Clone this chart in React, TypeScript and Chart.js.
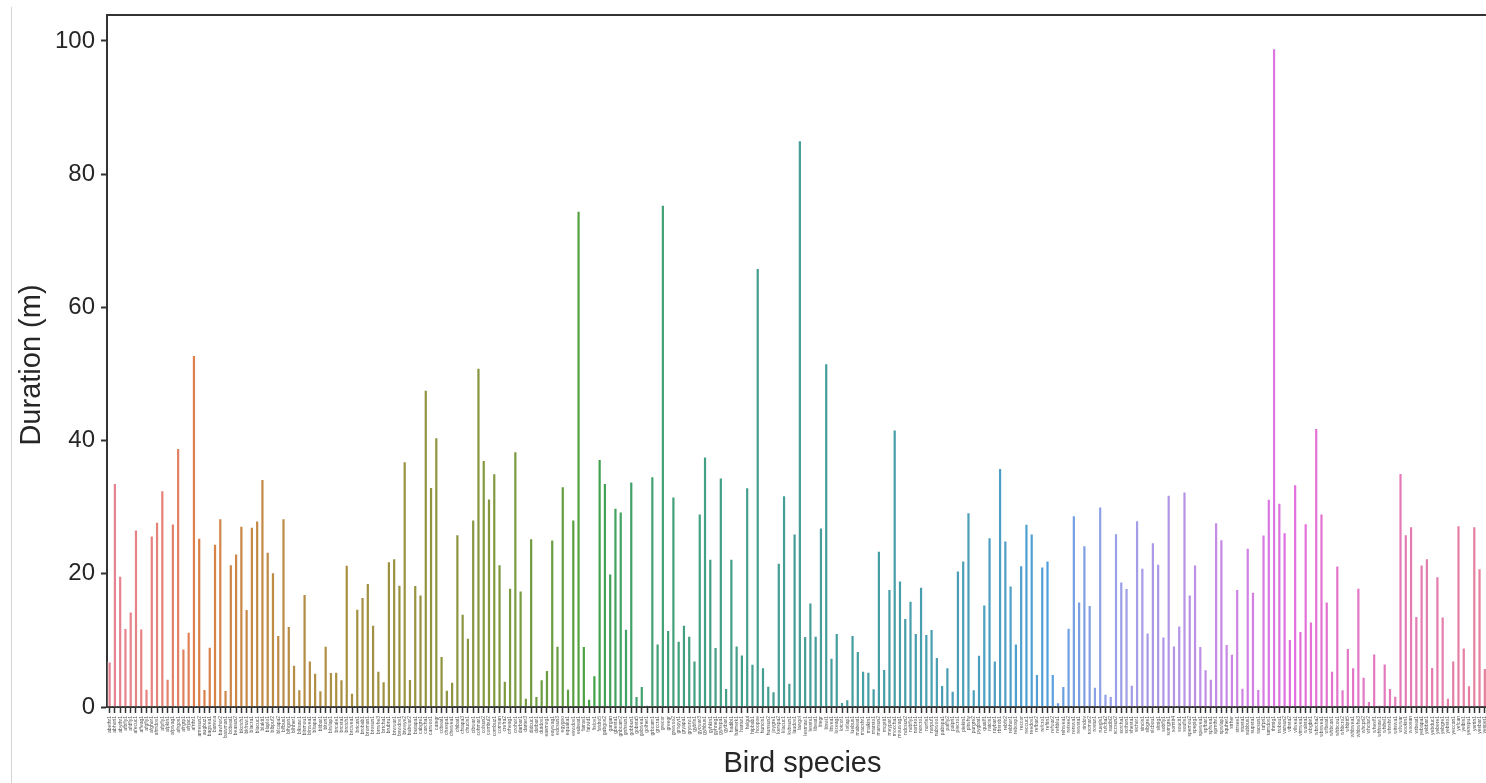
import React, { useEffect, useRef } from "react";
import { Chart, registerables } from "chart.js";

Chart.register(...registerables);

// ---------------- data ----------------
const species: string[] = [
  "abethr1", "abhori1", "abythr1", "afbfly1", "afdfly1", "afecuc1", "affeag1", "afgfly1", "afghor1", "afmdov1",
  "afpfly1", "afpkin1", "afpwag1", "afrgos1", "afrgrp1", "afrjac1", "afrthr1", "amesun2", "augbuz1", "bagwea1",
  "barswa", "bawhor2", "bawman1", "bcbeat1", "beasun2", "bkctch1", "bkfruw1", "blacra1", "blacuc1", "blakit1",
  "blaplo1", "blbpuf2", "blcapa2", "blfbus1", "blhgon1", "blhher1", "blksaw1", "blnmou1", "blnwea1", "bltapa1",
  "bltbar1", "bltori1", "blwlap1", "brcale1", "brcsta1", "brctch1", "brcwea1", "brican1", "brobab1", "broman1",
  "brosun1", "brrwhe3", "brtcha1", "brubru1", "brwwar1", "bswdov1", "btweye2", "bubwar2", "butapa1", "cabgre1",
  "carcha1", "carwoo1", "categr", "ccbeat1", "chespa1", "chewea1", "chibat1", "chtapa3", "chucis1", "cibwar1",
  "cohmar1", "colsun2", "combul2", "combuz1", "comsan", "crefra2", "crheag1", "crohor1", "darbar1", "darter3",
  "didcuc1", "dotbar1", "dutdov1", "easmog1", "eaywag1", "edcsun3", "egygoo", "equaka1", "eswdov1", "eubeat1",
  "fatrav1", "fatwid1", "fislov1", "fotdro5", "gabgos2", "gargan", "gbesta1", "gnbcam2", "gnhsun1", "gobbun1",
  "gobsta5", "gobwea1", "golher1", "grbcam1", "grccra1", "grecor", "greegr", "grewoo2", "grwpyt1", "gryapa1",
  "grywrw1", "gybfis1", "gycwar3", "gyhbus1", "gyhkin1", "gyhneg1", "gyhspa1", "gytbar1", "hadibi1", "hamerk1",
  "hartur1", "helgui", "hipbab1", "hoopoe", "huncis1", "hunsun2", "joygre1", "kerspa2", "klacuc1", "kvbsun1",
  "laudov1", "lawgol", "lesmaw1", "lessts1", "libeat1", "litegr", "litswi1", "litwea1", "loceag1", "lotcor1",
  "lotlap1", "luebus1", "mabeat1", "macshr1", "malkin1", "marsto1", "marsun2", "mcptit1", "meypar1", "moccha1",
  "mouwag1", "ndcsun2", "nobfly1", "norbro1", "norcro1", "norfis1", "norpuf1", "nubwoo1", "pabspa1", "palfly2",
  "palpri1", "piecro1", "piekin1", "pitwhy", "purgre2", "pygbat1", "quailf1", "ratcis1", "raybar1", "rbsrob1",
  "rebfir2", "rebhor1", "reboxp1", "reccor", "reccuc1", "reedov1", "refbar2", "refcro1", "reftin1", "refwar2",
  "rehblu1", "rehwea1", "reisee2", "rerswa1", "rewsta1", "rindov", "rocmar2", "rostur1", "ruegls1", "rufcha2",
  "sacibi2", "sccsun2", "scrcha1", "scthon1", "shesta1", "sichor1", "sincis1", "slbgre1", "slcbou1", "sltnig1",
  "sobfly1", "somgre1", "somtit4", "soucit1", "soufis1", "spemou2", "spepig1", "spewea1", "spfbar1", "spfwea1",
  "spmthr1", "spwlap1", "squher1", "strher", "strsee1", "stusta1", "subbus1", "supsta1", "tacsun1", "tafpri1",
  "tamdov1", "thrnig1", "trobou1", "varsun2", "vibsta2", "vilwea1", "vimwea1", "walsta1", "wbgbir1", "wbrcha2",
  "wbswea1", "wfbeat1", "whbcan1", "whbcou1", "whbcro2", "whbtit5", "whbwea1", "whbwhe3", "whcpri2", "whctur2",
  "wheslf1", "whhsaw1", "whihel1", "whrshr1", "witswa1", "wlwwar", "wookin1", "woosan", "wtbeat1", "yebapa1",
  "yebbar1", "yebduc1", "yebere1", "yebgre1", "yebsto1", "yeccan1", "yefcan", "yelbis1", "yenspu1", "yertin1",
  "yesbar1", "yespet1", "yetgre1", "yewgre1",
];

const durations: number[] = [
  6.85, 33.65, 19.7, 11.85, 14.35, 26.65, 11.8, 2.75, 25.75, 27.8,
  32.55, 4.25, 27.55, 38.9, 8.8, 11.3, 52.85, 25.4, 2.7, 9.05,
  24.5, 28.35, 2.55, 21.45, 23.05, 27.2, 14.7, 27.05, 28.0, 34.25,
  23.3, 20.25, 10.8, 28.35, 12.15, 6.35, 2.65, 16.95, 7.0, 5.15,
  2.5, 9.2, 5.25, 5.3, 4.15, 21.35, 2.15, 14.75, 16.5, 18.6,
  12.35, 5.45, 3.85, 21.9, 22.35, 18.35, 36.9, 4.2, 18.3, 16.9,
  47.65, 33.05, 40.5, 7.65, 2.6, 3.8, 25.95, 14.0, 10.4, 28.15,
  50.95, 37.1, 31.3, 35.1, 21.45, 3.95, 17.9, 38.4, 17.5, 1.4,
  25.35, 1.65, 4.15, 5.55, 25.15, 9.2, 33.15, 2.75, 28.15, 74.5,
  9.15, 1.25, 4.75, 37.25, 33.65, 20.05, 29.9, 29.35, 11.75, 33.85,
  1.65, 3.15, 0.3, 34.65, 9.55, 75.4, 11.55, 31.6, 9.95, 12.35,
  10.7, 7.0, 29.05, 37.6, 22.25, 9.0, 34.45, 2.85, 22.25, 9.25,
  7.9, 33.0, 6.5, 65.9, 5.95, 3.2, 2.35, 21.65, 31.8, 3.65,
  26.05, 85.1, 10.65, 15.7, 10.7, 26.95, 51.6, 7.4, 11.1, 0.75,
  1.15, 10.8, 8.4, 5.45, 5.3, 2.8, 23.45, 5.7, 17.7, 41.65,
  19.0, 13.35, 15.95, 11.1, 18.05, 10.95, 11.7, 7.5, 3.3, 5.95,
  2.45, 20.5, 22.0, 29.25, 2.65, 7.85, 15.4, 25.5, 7.0, 35.9,
  25.0, 18.25, 9.55, 21.3, 27.5, 26.05, 4.95, 21.1, 22.0, 4.95,
  0.7, 3.15, 11.9, 28.8, 15.85, 24.3, 15.3, 3.05, 30.1, 2.0,
  1.65, 26.1, 18.85, 17.85, 3.35, 28.05, 20.9, 11.2, 24.75, 21.5,
  10.6, 31.85, 9.25, 12.25, 32.35, 16.9, 21.4, 9.15, 5.65, 4.25,
  27.75, 25.2, 9.45, 8.0, 17.7, 2.9, 23.9, 17.3, 2.7, 25.9,
  31.25, 98.9, 30.65, 26.25, 10.2, 33.45, 11.4, 27.6, 12.85, 41.9,
  29.05, 15.85, 5.45, 21.25, 2.65, 8.85, 5.95, 17.9, 4.55, 0.9,
  8.05, 0.3, 6.55, 2.85, 1.7, 35.15, 25.95, 27.15, 13.65, 21.4,
  22.35, 6.0, 19.65, 13.6, 1.4, 7.0, 27.3, 8.95, 3.25, 27.15,
  20.85, 5.85, 12.0, 8.0,
];

const yTicks: number[] = [0, 20, 40, 60, 80, 100];
const yMax = 103.9;
const xTitle = "Bird species";
const yTitle = "Duration (m)";

// ---------------- husl palette (seaborn style) ----------------
const M = [
  [3.2406, -1.5372, -0.4986],
  [-0.9689, 1.8758, 0.0415],
  [0.0557, -0.204, 1.057],
];
const refU = 0.19784;
const refV = 0.46834;
const labE = 0.008856;
const labK = 903.3;

function maxChroma(L: number, H: number): number {
  const hrad = (H * Math.PI) / 180;
  const sinH = Math.sin(hrad);
  const cosH = Math.cos(hrad);
  const sub1 = Math.pow(L + 16, 3) / 1560896.0;
  const sub2 = sub1 > 0.008856 ? sub1 : L / 903.3;
  let result = Infinity;
  for (const row of M) {
    const [m1, m2, m3] = row;
    const top = (0.99915 * m1 + 1.05122 * m2 + 1.1446 * m3) * sub2;
    const rbottom = 0.8633 * m3 - 0.17266 * m2;
    const lbottom = 0.12949 * m3 - 0.38848 * m1;
    const bottom = (rbottom * sinH + lbottom * cosH) * sub2;
    for (const t of [0, 1]) {
      const C = (L * (top - 1.05122 * t)) / (bottom + 0.17266 * sinH * t);
      if (C > 0 && C < result) result = C;
    }
  }
  return result;
}

function fInv(t: number): number {
  const t3 = Math.pow(t, 3);
  return t3 > labE ? t3 : (116 * t - 16) / labK;
}

function fromLinear(c: number): number {
  return c <= 0.0031308 ? 12.92 * c : 1.055 * Math.pow(c, 1 / 2.4) - 0.055;
}

function huslToRgb(H: number, S: number, L: number): number[] {
  let C = 0;
  if (L > 99.9999999) { L = 100; C = 0; }
  else if (L < 1e-8) { L = 0; C = 0; }
  else C = (maxChroma(L, H) / 100) * S;
  const hrad = (H * Math.PI) / 180;
  const U = Math.cos(hrad) * C;
  const V = Math.sin(hrad) * C;
  if (L === 0) return [0, 0, 0];
  const varY = fInv((L + 16) / 116);
  const varU = U / (13 * L) + refU;
  const varV = V / (13 * L) + refV;
  const Y = varY;
  const X = 0 - (9 * Y * varU) / ((varU - 4) * varV - varU * varV);
  const Z = (9 * Y - 15 * varV * Y - varV * X) / (3 * varV);
  return M.map((row) => {
    const v = fromLinear(row[0] * X + row[1] * Y + row[2] * Z);
    return Math.min(1, Math.max(0, v));
  });
}

function rgbToHls(r: number, g: number, b: number): number[] {
  const maxc = Math.max(r, g, b);
  const minc = Math.min(r, g, b);
  const l = (minc + maxc) / 2;
  if (minc === maxc) return [0, l, 0];
  const s = l <= 0.5 ? (maxc - minc) / (maxc + minc) : (maxc - minc) / (2 - maxc - minc);
  const rc = (maxc - r) / (maxc - minc);
  const gc = (maxc - g) / (maxc - minc);
  const bc = (maxc - b) / (maxc - minc);
  let h: number;
  if (r === maxc) h = bc - gc;
  else if (g === maxc) h = 2 + rc - bc;
  else h = 4 + gc - rc;
  h = ((h / 6) % 1 + 1) % 1;
  return [h, l, s];
}

function vv(m1: number, m2: number, hue: number): number {
  hue = ((hue % 1) + 1) % 1;
  if (hue < 1 / 6) return m1 + (m2 - m1) * hue * 6;
  if (hue < 0.5) return m2;
  if (hue < 2 / 3) return m1 + (m2 - m1) * (2 / 3 - hue) * 6;
  return m1;
}

function hlsToRgb(h: number, l: number, s: number): number[] {
  if (s === 0) return [l, l, l];
  const m2 = l <= 0.5 ? l * (1 + s) : l + s - l * s;
  const m1 = 2 * l - m2;
  return [vv(m1, m2, h + 1 / 3), vv(m1, m2, h), vv(m1, m2, h - 1 / 3)];
}

function seabornHusl(n: number, saturation: number): string[] {
  const out: string[] = [];
  for (let i = 0; i < n; i++) {
    const hue = ((i / n + 0.01) % 1) * 359;
    const [r, g, b] = huslToRgb(hue, 0.9 * 99, 0.65 * 99);
    const [h, l, s] = rgbToHls(r, g, b);
    const [r2, g2, b2] = hlsToRgb(h, l, s * saturation);
    out.push(`rgb(${Math.round(r2 * 255)}, ${Math.round(g2 * 255)}, ${Math.round(b2 * 255)})`);
  }
  return out;
}

// ---------------- layout constants ----------------
const CANVAS_W = 1530;
const CANVAS_H = 783;
const PLOT_LEFT = 107;
const PLOT_TOP = 15;
const PLOT_RIGHT = 1498;
const PLOT_BOTTOM = 707;
const FONT = '"Liberation Sans", Arial, Helvetica, sans-serif';
const INK = "#262626";
const SPINE = "#333333";

const framePlugin = {
  id: "frameAndTitles",
  afterDraw(chart: any) {
    const { ctx, chartArea } = chart;
    const { left, top, right, bottom } = chartArea;
    ctx.save();
    ctx.strokeStyle = SPINE;
    ctx.lineWidth = 2;
    ctx.beginPath();
    ctx.moveTo(left - 1, top);
    ctx.lineTo(right, top);
    ctx.lineTo(right, bottom);
    ctx.stroke();

    ctx.fillStyle = INK;
    ctx.font = `29px ${FONT}`;
    ctx.textAlign = "center";
    ctx.textBaseline = "alphabetic";
    ctx.fillText(xTitle, (left + right) / 2, 772);

    ctx.translate(40, (top + bottom) / 2 + 4);
    ctx.rotate(-Math.PI / 2);
    ctx.fillText(yTitle, 0, 0);
    ctx.restore();
  },
};

export default function App() {
  const canvasRef = useRef<HTMLCanvasElement | null>(null);

  useEffect(() => {
    if (!canvasRef.current) return;
    const colors = seabornHusl(species.length, 0.75);
    const chart = new Chart(canvasRef.current, {
      type: "bar",
      data: {
        labels: species,
        datasets: [
          {
            data: durations,
            backgroundColor: colors,
            borderColor: "#ffffff",
            borderWidth: 1,
            barPercentage: 0.8,
            categoryPercentage: 1.0,
          },
        ],
      },
      options: {
        responsive: false,
        animation: false,
        devicePixelRatio: 1,
        layout: {
          padding: { left: 0, top: PLOT_TOP, right: CANVAS_W - PLOT_RIGHT, bottom: 0 },
        },
        plugins: {
          legend: { display: false },
          tooltip: { enabled: false },
          title: { display: false },
        },
        scales: {
          x: {
            type: "category",
            offset: true,
            grid: {
              display: true,
              offset: false,
              drawOnChartArea: false,
              drawTicks: true,
              tickLength: 6,
              tickWidth: 1.5,
              tickColor: SPINE,
            },
            border: { display: true, color: SPINE, width: 2 },
            ticks: {
              autoSkip: false,
              maxRotation: 90,
              minRotation: 90,
              padding: 3,
              color: "#555555",
              font: { family: FONT, size: 5 },
            },
            afterFit(scale: any) {
              scale.height = CANVAS_H - PLOT_BOTTOM;
              scale.paddingLeft = 0;
              scale.paddingRight = 0;
            },
          },
          y: {
            type: "linear",
            min: 0,
            max: yMax,
            grid: {
              display: true,
              drawOnChartArea: false,
              drawTicks: true,
              tickLength: 6,
              tickWidth: 2,
              tickColor: SPINE,
            },
            border: { display: true, color: SPINE, width: 2 },
            ticks: {
              includeBounds: false,
              padding: 6,
              color: INK,
              font: { family: FONT, size: 24 },
            },
            afterBuildTicks(scale: any) {
              scale.ticks = yTicks.map((v) => ({ value: v }));
            },
            afterFit(scale: any) {
              scale.width = PLOT_LEFT;
              scale.paddingTop = 0;
              scale.paddingBottom = 0;
            },
          },
        },
      },
      plugins: [framePlugin],
    });
    return () => chart.destroy();
  }, []);

  return (
    <div
      style={{
        position: "fixed",
        left: 0,
        top: 0,
        width: 1486,
        height: 783,
        overflow: "hidden",
        background: "#ffffff",
      }}
    >
      <div
        style={{
          position: "absolute",
          left: 11,
          top: 7,
          width: 1,
          height: 776,
          background: "#d4d4d4",
        }}
      />
      <canvas
        ref={canvasRef}
        width={CANVAS_W}
        height={CANVAS_H}
        style={{ position: "absolute", left: 0, top: 0, display: "block", width: CANVAS_W, height: CANVAS_H }}
      />
    </div>
  );
}
